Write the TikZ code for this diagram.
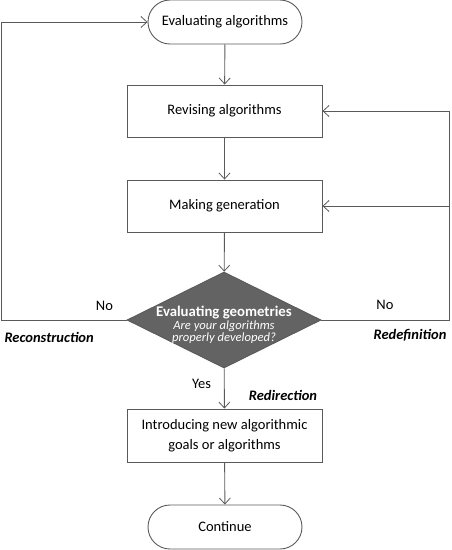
\documentclass[tikz,border=0pt]{standalone}
\usepackage{fontspec}
\setmainfont{Carlito}
\usetikzlibrary{shapes.geometric,shapes.misc,arrows.meta}
\definecolor{ln}{HTML}{5A5A5A}
\definecolor{dfill}{HTML}{636363}
\begin{document}
\begin{tikzpicture}[x=1pt,y=-1pt,
  every node/.style={font=\fontsize{14.5}{19.5}\selectfont, text=black},
  term/.style={draw=ln, line width=0.9pt, rounded rectangle, minimum width=154pt, minimum height=44pt, inner sep=0pt},
  proc/.style={draw=ln, line width=0.9pt, rectangle, minimum width=195pt, minimum height=52pt, inner sep=0pt, align=center},
  dec/.style={draw=ln, fill=dfill, line width=0.9pt, diamond, minimum width=194pt, minimum height=96pt, inner sep=0pt},
  arr/.style={draw=ln, line width=0.9pt, -{Straight Barb[length=6pt,width=11pt,line width=0.8pt]}},
  lbl/.style={font=\fontsize{14.5}{17}\selectfont\bfseries\itshape}
]
\useasboundingbox (0,0) rectangle (451,550);
\node[term] (start) at (225,22) {Evaluating algorithms};
\node[proc] (rev) at (224.5,111) {Revising algorithms};
\node[proc] (gen) at (224.5,206) {Making generation};
\node[dec] (dia) at (224,320) {};
\node[align=center, text=white, inner sep=0pt, font=\fontsize{12.6}{12.5}\selectfont\itshape] (diat) at (224,325)
  {{\fontsize{14.8}{12.5}\selectfont\bfseries\upshape Evaluating geometries}\\
   Are your algorithms\\
   properly developed?};
\node[proc, minimum height=53pt] (intro) at (224.5,435.5) {Introducing new algorithmic\\goals or algorithms};
\node[term] (cont) at (225,527) {Continue};

\coordinate (L) at (1,0);
\coordinate (R) at (449,0);

\draw[arr] (start) -- (rev);
\draw[arr] (rev) -- (gen);
\draw[arr] (gen) -- (dia);
\draw[arr] (dia) -- (intro);
\draw[arr] (intro) -- (cont);

\draw[arr] (dia.west) -- (dia.west -| L) |- (start.west);
\draw[arr] (dia.east) -- (dia.east -| R) |- (rev.east);
\draw[arr] (gen.east -| R) -- (gen.east);

\node (noL) at (104.5,306) {No};
\node (noR) at (385,305) {No};
\node[lbl, anchor=west] (recon) at (1,337) {Reconstruction};
\node[lbl, anchor=east] (redef) at (450,335) {Redefinition};
\node (yes) at (201.5,384) {Yes};
\node[lbl] (redir) at (283,395) {Redirection};
\end{tikzpicture}
\end{document}
